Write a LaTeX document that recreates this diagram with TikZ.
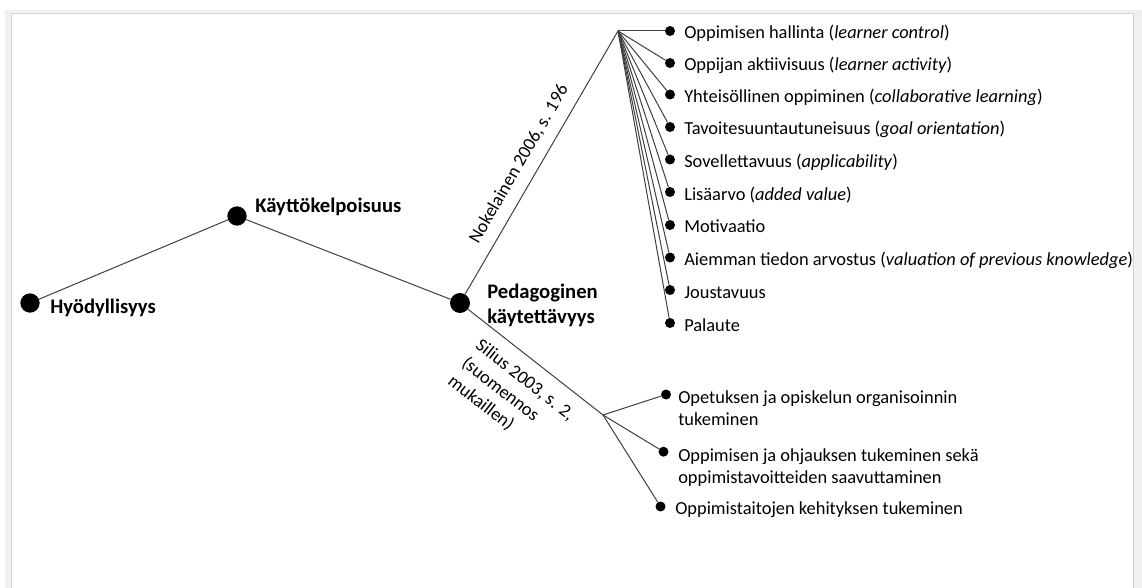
\documentclass[tikz,border=0pt]{standalone}
\usepackage{fontspec}
\setmainfont{Carlito}
\newcommand\leaffnt{\fontsize{13.8}{16.5}\selectfont}
\newcommand\boldfnt{\fontsize{15.5}{18.9}\selectfont\bfseries}
\begin{document}
\begin{tikzpicture}[x=0.75pt,y=-0.75pt,
  conn/.style={draw=black!75,line width=0.75pt},
  bigdot/.style={circle,fill=black,inner sep=0pt,minimum size=14.5pt},
  smalldot/.style={circle,fill=black,inner sep=0pt,minimum size=7.5pt},
  leaf/.style={anchor=base west,inner sep=0pt,font=\leaffnt},
  lbl/.style={anchor=base west,inner sep=0pt,font=\boldfnt},
  src/.style={inner sep=0pt,font=\leaffnt}]
\useasboundingbox (0,0) rectangle (1142,588);
% frame
\fill[black!6] (5,10) rectangle (1142,588);
\fill[white] (11,14) rectangle (1133,588);
\draw[black!17,line width=0.75pt] (11,588) -- (11,14) -- (1133,14) -- (1133,588);

% main nodes
\node[bigdot] (h) at (30,303) {};
\node[bigdot] (k) at (237,216) {};
\node[bigdot,minimum size=15pt] (p) at (460,303) {};
\coordinate (hubA) at (618,31);
\coordinate (hubB) at (603,415);

\node[lbl] (hl) at (50,313) {Hyödyllisyys};
\node[lbl] (kl) at (255,212.5) {Käyttökelpoisuus};
\node[lbl] (pl1) at (487,298.5) {Pedagoginen};
\node[lbl] (pl2) at (487,323) {käytettävyys};

\draw[conn] (h) -- (k);
\draw[conn] (k) -- (p);
\draw[conn] (p) -- (hubA);
\draw[conn] (p) -- (hubB);

\node[src,rotate=59.85] (nok) at (519,164) {Nokelainen 2006, s. 196};
\node[src,rotate=-38,align=left,font=\fontsize{13.8}{17}\selectfont] (sil) at (511,398)
  {Silius 2003, s. 2,\\(suomennos\\mukaillen)};

% upper leaves
\foreach \i/\y/\t in {
  1/31/{Oppimisen hallinta (\textit{learner control})},
  2/63/{Oppijan aktiivisuus (\textit{learner activity})},
  3/94.5/{Yhteisöllinen oppiminen (\textit{collaborative learning})},
  4/127/{Tavoitesuuntautuneisuus (\textit{goal orientation})},
  5/159.5/{Sovellettavuus (\textit{applicability})},
  6/192/{Lisäarvo (\textit{added value})},
  7/225/{Motivaatio},
  8/257.5/{Aiemman tiedon arvostus (\textit{valuation of previous knowledge})},
  9/290/{Joustavuus},
  10/323/{Palaute}} {
  \node[smalldot] (a\i) at (670,\y) {};
  \node[leaf] (at\i) at (684,\y+8) {\t};
  \draw[conn] (hubA) -- (a\i);
}

% lower leaves
\node[smalldot] (b1) at (666,394.5) {};
\node[smalldot] (b2) at (663.5,451.7) {};
\node[smalldot] (b3) at (660.5,506.5) {};
\draw[conn] (hubB) -- (b1);
\draw[conn] (hubB) -- (b2);
\draw[conn] (hubB) -- (b3);
\node[leaf] (bt1) at (678,403.3) {\begin{tabular}[t]{@{}l@{}}Opetuksen ja opiskelun organisoinnin\\ tukeminen\end{tabular}};
\node[leaf] (bt2) at (678,461.7) {\begin{tabular}[t]{@{}l@{}}Oppimisen ja ohjauksen tukeminen sekä\\ oppimistavoitteiden saavuttaminen\end{tabular}};
\node[leaf] (bt3) at (675,514) {Oppimistaitojen kehityksen tukeminen};
\end{tikzpicture}
\end{document}
